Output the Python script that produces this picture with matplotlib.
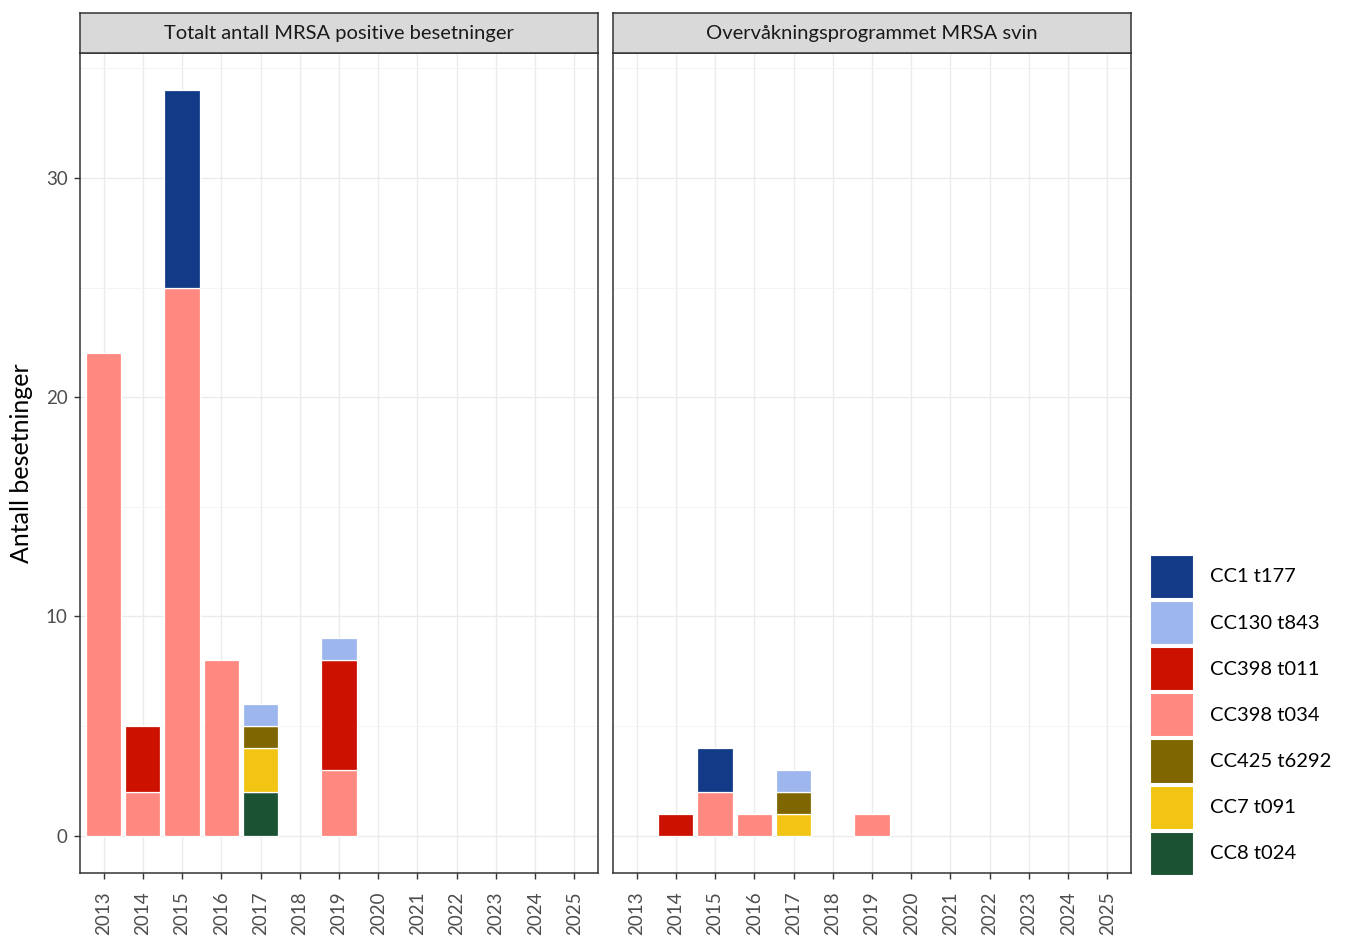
import matplotlib.pyplot as plt
from matplotlib.patches import Patch
import numpy as np

plt.rcParams['font.family'] = ['Lato', 'DejaVu Sans']

years = ['2013', '2014', '2015', '2016', '2017', '2018', '2019',
         '2020', '2021', '2022', '2023', '2024', '2025']
panel_titles = ['Totalt antall MRSA positive besetninger',
                'Overvåkningsprogrammet MRSA svin']

# legend order (top to bottom); stacking goes the other way
strains = ['CC1 t177', 'CC130 t843', 'CC398 t011', 'CC398 t034',
           'CC425 t6292', 'CC7 t091', 'CC8 t024']
colors = ['#123a87', '#9db6ee', '#cc1100', '#ff8880',
          '#806600', '#f2c413', '#1b5233']

# counts per year, all positive herds
total_cc1_t177 = [0, 0, 9, 0, 0, 0, 0, 0, 0, 0, 0, 0, 0]
total_cc130_t843 = [0, 0, 0, 0, 1, 0, 1, 0, 0, 0, 0, 0, 0]
total_cc398_t011 = [0, 3, 0, 0, 0, 0, 5, 0, 0, 0, 0, 0, 0]
total_cc398_t034 = [22, 2, 25, 8, 0, 0, 3, 0, 0, 0, 0, 0, 0]
total_cc425_t6292 = [0, 0, 0, 0, 1, 0, 0, 0, 0, 0, 0, 0, 0]
total_cc7_t091 = [0, 0, 0, 0, 2, 0, 0, 0, 0, 0, 0, 0, 0]
total_cc8_t024 = [0, 0, 0, 0, 2, 0, 0, 0, 0, 0, 0, 0, 0]

# counts per year, surveillance programme
surv_cc1_t177 = [0, 0, 2, 0, 0, 0, 0, 0, 0, 0, 0, 0, 0]
surv_cc130_t843 = [0, 0, 0, 0, 1, 0, 0, 0, 0, 0, 0, 0, 0]
surv_cc398_t011 = [0, 1, 0, 0, 0, 0, 0, 0, 0, 0, 0, 0, 0]
surv_cc398_t034 = [0, 0, 2, 1, 0, 0, 1, 0, 0, 0, 0, 0, 0]
surv_cc425_t6292 = [0, 0, 0, 0, 1, 0, 0, 0, 0, 0, 0, 0, 0]
surv_cc7_t091 = [0, 0, 0, 0, 1, 0, 0, 0, 0, 0, 0, 0, 0]
surv_cc8_t024 = [0, 0, 0, 0, 0, 0, 0, 0, 0, 0, 0, 0, 0]

panels = [
    [total_cc1_t177, total_cc130_t843, total_cc398_t011, total_cc398_t034,
     total_cc425_t6292, total_cc7_t091, total_cc8_t024],
    [surv_cc1_t177, surv_cc130_t843, surv_cc398_t011, surv_cc398_t034,
     surv_cc425_t6292, surv_cc7_t091, surv_cc8_t024],
]

W, H = 1349, 938
fig = plt.figure(figsize=(W / 100, H / 100), dpi=100)

def px_axes(x0, y0, x1, y1):
    return fig.add_axes([x0 / W, 1 - y1 / H, (x1 - x0) / W, (y1 - y0) / H])

x = np.arange(len(years))
ymax = max(np.sum(p, axis=0).max() for p in panels)
pad = ymax * 0.05
panel_x = [(80, 598), (613, 1131)]

for i, (counts, title) in enumerate(zip(panels, panel_titles)):
    x0, x1 = panel_x[i]
    ax = px_axes(x0, 53, x1, 873)
    bottom = np.zeros(len(years))
    # stack from the last level upwards
    for vals, col in zip(counts[::-1], colors[::-1]):
        vals = np.array(vals, dtype=float)
        mask = vals > 0
        ax.bar(x[mask], vals[mask], bottom=bottom[mask], width=0.9,
               color=col, edgecolor='white', linewidth=0.9, zorder=3)
        bottom += vals
    ax.set_xlim(-0.6, len(years) - 1 + 0.6)
    ax.set_ylim(-pad, ymax + pad)
    ax.set_yticks([0, 10, 20, 30])
    ax.set_yticks([5, 15, 25, 35], minor=True)
    ax.set_xticks(x)
    ax.set_xticklabels(years, rotation=90)
    ax.grid(True, which='major', color='#ebebeb', linewidth=1.0, zorder=0)
    ax.grid(True, which='minor', axis='y', color='#f2f2f2', linewidth=0.6, zorder=0)
    ax.tick_params(axis='both', which='major', length=4, width=1.0,
                   color='#333333', labelsize=13.5, labelcolor='#4d4d4d')
    ax.tick_params(axis='x', which='major', pad=9)
    ax.tick_params(axis='y', which='major', pad=5)
    ax.tick_params(axis='y', which='minor', length=0)
    for s in ax.spines.values():
        s.set_color('#333333')
        s.set_linewidth(1.1)
    if i == 0:
        ax.set_ylabel('Antall besetninger', fontsize=18, color='black', labelpad=9)
    else:
        ax.set_yticklabels([])
        ax.tick_params(axis='y', which='major', length=0)

    strip = px_axes(x0, 13, x1, 53)
    strip.set_facecolor('#d9d9d9')
    strip.set_xticks([])
    strip.set_yticks([])
    for s in strip.spines.values():
        s.set_color('#333333')
        s.set_linewidth(1.1)
    strip.text(0.5, 0.5, title, ha='center', va='center', fontsize=14.5,
               color='#1a1a1a', transform=strip.transAxes)

handles = [Patch(facecolor=c, edgecolor='white', linewidth=0.8) for c in colors]
fig.legend(handles, strains, loc='upper left',
           bbox_to_anchor=(1150 / W, 1 - 555 / H), frameon=False,
           fontsize=14.5, handlelength=2.14, handleheight=2.915,
           labelspacing=0.15, handletextpad=0.85, borderaxespad=0,
           borderpad=0)

fig.savefig('out.png', dpi=100)
